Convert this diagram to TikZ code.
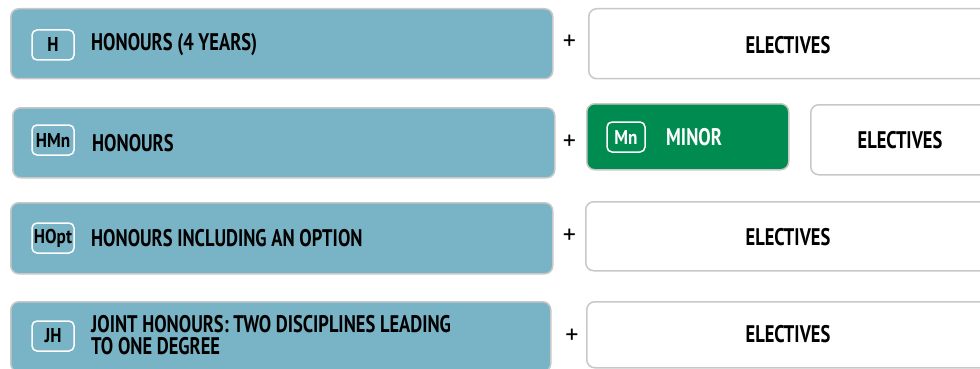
\documentclass[tikz,border=0pt]{standalone}
\usepackage{fontspec}
\setmainfont[FakeStretch=0.77]{PT Sans}
\newfontfamily\badgefont[FakeStretch=0.86]{PT Sans}
\newfontfamily\plusfont{PT Sans}
\definecolor{hblue}{HTML}{79B3C6}
\definecolor{mgreen}{HTML}{008C50}
\definecolor{bgrey}{HTML}{C8C8C8}
\begin{document}
\begin{tikzpicture}[x=1pt,y=-1pt,
  bluebox/.style={draw=bgrey, line width=1.5pt, fill=hblue, rounded corners=8pt, anchor=north west, inner sep=0pt},
  greenbox/.style={draw=bgrey, line width=1.5pt, fill=mgreen, rounded corners=8pt, anchor=north west, inner sep=0pt},
  elecbox/.style={draw=bgrey, line width=1.5pt, fill=white, rounded corners=8pt, anchor=north west, inner sep=0pt},
  badge/.style={draw=white, line width=1.5pt, rounded corners=5pt, minimum width=42pt, minimum height=30pt, inner sep=0pt, font=\badgefont\bfseries\fontsize{20}{20}\selectfont},
  maintext/.style={anchor=west, inner sep=0pt, font=\bfseries\fontsize{24}{22}\selectfont, align=left},
  electext/.style={inner sep=0pt, font=\bfseries\fontsize{24}{20}\selectfont},
  plus/.style={inner sep=0pt, font=\plusfont\fontsize{26}{26}\selectfont}]
\useasboundingbox (0,0) rectangle (980,369);
\clip (0,0) rectangle (980,369);
% Row 1
\node[bluebox, minimum width=542pt, minimum height=70pt] (b1) at (10,8) {};
\node[badge] (k1) at (53,45) {H};
\node[maintext] (t1) at (91,45) {HONOURS (4 YEARS)};
\node[plus] (p1) at (569.5,42) {+};
\node[elecbox, minimum width=402pt, minimum height=70pt] (e1) at (588,8) {};
\node[electext] (et1) at (788,45) {ELECTIVES};
% Row 2
\node[bluebox, minimum width=542pt, minimum height=70pt] (b2) at (12,107) {};
\node[badge] (k2) at (53,140) {HMn};
\node[maintext] (t2) at (92,143) {HONOURS};
\node[plus] (p2) at (569.5,142) {+};
\node[greenbox, minimum width=202pt, minimum height=66pt] (g2) at (586,103) {};
\node[badge, minimum width=38pt, text=white] (k2m) at (626,137) {Mn};
\node[maintext, text=white] (t2m) at (666,137) {MINOR};
\node[elecbox, minimum width=180pt, minimum height=70pt] (e2) at (810,104) {};
\node[electext] (et2) at (900,140) {ELECTIVES};
% Row 3
\node[bluebox, minimum width=542pt, minimum height=71pt] (b3) at (10,202) {};
\node[badge] (k3) at (53,238) {HOpt};
\node[maintext] (t3) at (91,238) {HONOURS INCLUDING AN OPTION};
\node[plus] (p3) at (569.5,236) {+};
\node[elecbox, minimum width=405pt, minimum height=69pt] (e3) at (585,201) {};
\node[electext] (et3) at (788,237) {ELECTIVES};
% Row 4
\node[bluebox, minimum width=540pt, minimum height=70pt] (b4) at (10,301) {};
\node[badge] (k4) at (53,336) {JH};
\node[maintext] (t4) at (91,335.5) {JOINT HONOURS: TWO DISCIPLINES LEADING\\TO ONE DEGREE};
\node[plus] (p4) at (572,336) {+};
\node[elecbox, minimum width=404pt, minimum height=66pt] (e4) at (586,301) {};
\node[electext] (et4) at (788,334) {ELECTIVES};
\end{tikzpicture}
\end{document}
